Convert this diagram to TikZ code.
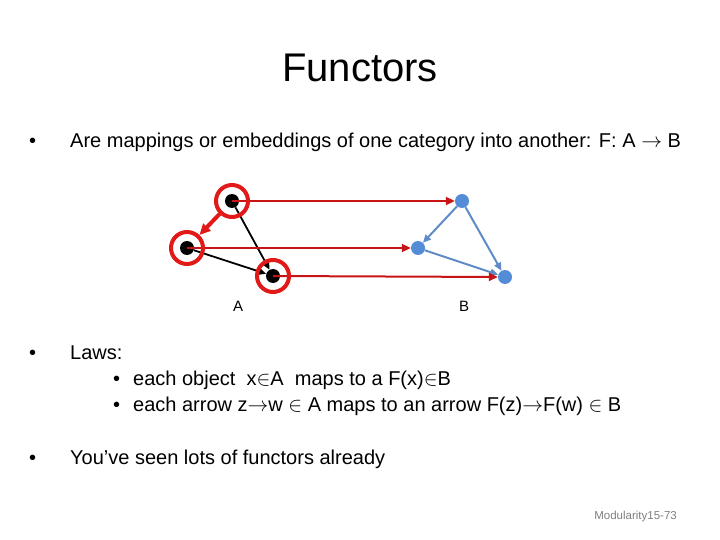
\documentclass[tikz,border=0pt]{standalone}
\usepackage{fontspec}
\setmainfont{Liberation Sans}
\usetikzlibrary{arrows.meta}
\definecolor{mapred}{RGB}{200,20,20}
\definecolor{ringred}{RGB}{225,25,25}
\definecolor{bnode}{RGB}{85,140,215}
\definecolor{barrow}{RGB}{95,140,200}
\newcommand{\elm}{\ensuremath{\in}}
\newcommand{\arr}{\ensuremath{\rightarrow}}
\begin{document}
\begin{tikzpicture}[x=1pt,y=-1pt,
  txt/.style={anchor=base west,inner sep=0pt,font=\fontsize{20}{24}\selectfont},
  adot/.style={circle,fill=black,minimum size=14pt,inner sep=0pt},
  bdot/.style={circle,fill=bnode,minimum size=14pt,inner sep=0pt},
  ring/.style={circle,draw=ringred,line width=4pt,minimum size=32pt,inner sep=0pt},
  fmap/.style={draw=mapred,line width=2pt,-{Triangle[length=9pt,width=8pt]}},
  aarr/.style={draw=black,line width=1.8pt,-{Triangle[length=8pt,width=7pt]}},
  barr/.style={draw=barrow,line width=2pt,-{Triangle[length=8pt,width=7pt]}},
  lbl/.style={font=\fontsize{15}{17}\selectfont,inner sep=0pt}]
\useasboundingbox (0,0) rectangle (720,540);
\fill[white] (0,0) rectangle (720,540);
% title
\node[inner sep=0pt,font=\fontsize{40}{46}\selectfont] (title) at (360,68) {Functors};
% bullet 1
\node[txt] (b1) at (29,148) {•};
\node[txt] (t1) at (70,148) {Are mappings or embeddings of one category into another: F: A \arr{} B};
% category A
\node[adot] (a1) at (232,201) {};
\node[adot] (a2) at (187,248) {};
\node[adot] (a3) at (273,276) {};
% category B
\node[bdot] (b1n) at (462,201) {};
\node[bdot] (b2n) at (418,248) {};
\node[bdot] (b3n) at (505,277) {};
% A arrows
\draw[aarr] (a1) -- (a3);
\draw[aarr] (a2) -- (a3);
% B arrows
\draw[barr] (b1n) -- (b2n);
\draw[barr] (b1n) -- (b3n);
\draw[barr] (b2n) -- (b3n);
% functor maps
\draw[fmap] (a1.center) -- (b1n.west);
\draw[fmap] (a2.center) -- (b2n.west);
\draw[fmap] (a3.center) -- (b3n.west);
% rings
\node[ring] (r1) at (a1) {};
\node[ring] (r2) at (a2) {};
\node[ring] (r3) at (a3) {};
\draw[draw=ringred,line width=4pt,-{Triangle[length=11pt,width=10pt]}] (r1) -- (r2);
% labels
\node[lbl] (la) at (238,306) {A};
\node[lbl] (lb) at (464,306) {B};
% laws
\node[txt] (b2) at (29,359) {•};
\node[txt] (t2) at (70,359) {Laws:};
\node[txt] (s1) at (113,385) {•};
\node[txt] (st1) at (133,385) {each object\ \ x\elm A\ \ maps to a F(x)\elm B};
\node[txt] (s2) at (113,411) {•};
\node[txt] (st2) at (133,411) {each arrow z\arr w \elm{} A maps to an arrow F(z)\arr F(w) \elm{} B};
\node[txt] (b3) at (29,464) {•};
\node[txt] (t3) at (70,464) {You’ve seen lots of functors already};
% footer
\node[inner sep=0pt,anchor=base east,text=gray,font=\fontsize{11.5}{13}\selectfont] (foot) at (677,519) {Modularity15-73};
\end{tikzpicture}
\end{document}
